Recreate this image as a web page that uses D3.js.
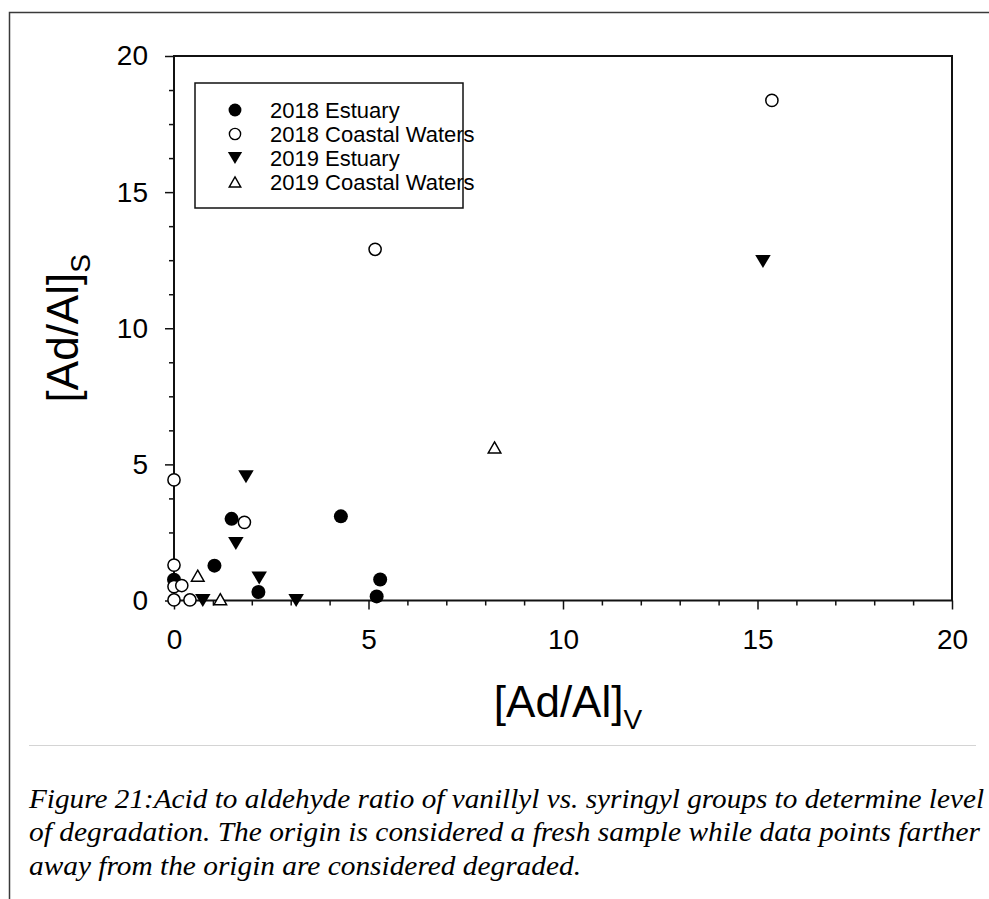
<!DOCTYPE html>
<html>
<head>
<meta charset="utf-8">
<script src="https://cdn.jsdelivr.net/npm/d3@7"></script>
<style>
  body { margin: 0; background: #fff; }
  svg { display: block; }
</style>
</head>
<body>
<svg id="fig" width="989" height="899"></svg>
<script>
// Acid-to-aldehyde ratios: vanillyl [Ad/Al]V (x) against syringyl [Ad/Al]S (y)
const estuary2018 = [[0, 0.76], [1.04, 1.28], [1.48, 3.00], [2.17, 0.31], [4.29, 3.09], [5.30, 0.77], [5.21, 0.15]];
const coastal2018 = [[0, 4.43], [0, 1.30], [0, 0.51], [0.20, 0.55], [0, 0.02], [0.41, 0.02], [1.81, 2.87], [5.17, 12.90], [15.37, 18.37]];
const estuary2019 = [[1.85, 4.55], [1.59, 2.09], [2.19, 0.83], [0.74, 0], [3.14, 0], [15.14, 12.45]];
const coastal2019 = [[0.61, 0.91], [1.19, 0.05], [8.24, 5.62]];

const seriesNames = ["2018 Estuary", "2018 Coastal Waters", "2019 Estuary", "2019 Coastal Waters"];
const majorTicks = [0, 5, 10, 15, 20];
const xMinorStep = 1;
const yMinorStep = 1.25;

const captionLines = [
  "Figure 21:Acid to aldehyde ratio of vanillyl vs. syringyl groups to determine level",
  "of degradation. The origin is considered a fresh sample while data points farther",
  "away from the origin are considered degraded."
];

const svg = d3.select("#fig");
const sans = "'Liberation Sans', Arial, sans-serif";
const serif = "'Liberation Serif', 'Times New Roman', serif";

// page frame (left and top rules) and separator above the caption
svg.append("path")
  .attr("d", "M9.5,899 L9.5,12.5 L989,12.5")
  .attr("fill", "none").attr("stroke", "#3a3a3a").attr("stroke-width", 1.5);
svg.append("line")
  .attr("x1", 29).attr("x2", 976).attr("y1", 745.5).attr("y2", 745.5)
  .attr("stroke", "#d4d4d4").attr("stroke-width", 1);

// plot area
const plot = { left: 174, right: 952, top: 56, bottom: 600.5 };
const x = d3.scaleLinear().domain([0, 20]).range([plot.left, plot.right]);
const y = d3.scaleLinear().domain([0, 20]).range([plot.bottom, plot.top]);

const xMinor = d3.range(0, 20 + 1e-9, xMinorStep).filter(v => !majorTicks.includes(v));
const yMinor = d3.range(0, 20 + 1e-9, yMinorStep).filter(v => !majorTicks.includes(v));

function styleAxis(g) {
  g.select(".domain").remove();
  g.selectAll(".tick line").attr("stroke", "#111").attr("stroke-width", 1.5);
  g.selectAll(".tick text").attr("fill", "#000").attr("font-family", sans).attr("font-size", 28);
}

// minor ticks
svg.append("g").attr("transform", `translate(0,${plot.bottom})`)
  .call(d3.axisBottom(x).tickValues(xMinor).tickSize(5).tickFormat(""))
  .call(styleAxis);
svg.append("g").attr("transform", `translate(${plot.left},0)`)
  .call(d3.axisLeft(y).tickValues(yMinor).tickSize(5).tickFormat(""))
  .call(styleAxis);

// major ticks with labels
svg.append("g").attr("transform", `translate(0,${plot.bottom})`)
  .call(d3.axisBottom(x).tickValues(majorTicks).tickSize(9).tickPadding(19.5).tickFormat(d3.format("d")))
  .call(styleAxis);
svg.append("g").attr("transform", `translate(${plot.left},0)`)
  .call(d3.axisLeft(y).tickValues(majorTicks).tickSize(9).tickPadding(17).tickFormat(d3.format("d")))
  .call(styleAxis);

// closed frame around the plot
svg.append("rect")
  .attr("x", plot.left).attr("y", plot.top)
  .attr("width", plot.right - plot.left).attr("height", plot.bottom - plot.top)
  .attr("fill", "none").attr("stroke", "#111").attr("stroke-width", 2);

// axis titles with subscripts
const xt = svg.append("text")
  .attr("x", (plot.left + plot.right) / 2 + 5).attr("y", 717)
  .attr("text-anchor", "middle").attr("font-family", sans).attr("font-size", 44).attr("fill", "#000");
xt.append("tspan").text("[Ad/Al]");
xt.append("tspan").attr("font-size", 28).attr("dy", 12).text("V");

const yt = svg.append("text")
  .attr("transform", `translate(78,${(plot.top + plot.bottom) / 2}) rotate(-90)`)
  .attr("text-anchor", "middle").attr("font-family", sans).attr("font-size", 44).attr("fill", "#000");
yt.append("tspan").text("[Ad/Al]");
yt.append("tspan").attr("font-size", 28).attr("dy", 12).text("S");

// marker shapes
const shapes = {
  circle: r => d3.symbol(d3.symbolCircle, Math.PI * r * r)(),
  down: (w, h) => `M${-w / 2},${-h / 2}L${w / 2},${-h / 2}L0,${h / 2}Z`,
  up: (w, h) => `M0,${-h / 2}L${w / 2},${h / 2}L${-w / 2},${h / 2}Z`
};
const styles = [
  { d: s => shapes.circle(7 * s), fill: "#000", stroke: "none" },
  { d: s => shapes.circle(6.1 * s), fill: "#fff", stroke: "#000" },
  { d: s => shapes.down(15.5 * s, 13 * s), fill: "#000", stroke: "none" },
  { d: s => shapes.up(12.6 * s, 11 * s), fill: "#fff", stroke: "#000" }
];
const series = [estuary2018, coastal2018, estuary2019, coastal2019];

series.forEach((data, i) => {
  const st = styles[i];
  svg.append("g").selectAll("path").data(data).join("path")
    .attr("transform", d => `translate(${x(d[0])},${y(d[1])})`)
    .attr("d", st.d(1))
    .attr("fill", st.fill).attr("stroke", st.stroke).attr("stroke-width", 1.5);
});

// legend
const legend = svg.append("g");
legend.append("rect")
  .attr("x", 195).attr("y", 83).attr("width", 268).attr("height", 125)
  .attr("fill", "#fff").attr("stroke", "#111").attr("stroke-width", 1.5);
seriesNames.forEach((name, i) => {
  const cy = 110 + i * 24;
  const st = styles[i];
  legend.append("path")
    .attr("transform", `translate(235,${cy})`)
    .attr("d", st.d(0.92))
    .attr("fill", st.fill).attr("stroke", st.stroke).attr("stroke-width", 1.4);
  legend.append("text")
    .attr("x", 270).attr("y", cy + 8)
    .attr("font-family", sans).attr("font-size", 22).attr("fill", "#000")
    .text(name);
});

// caption
const capWidths = [955, 951, 552];
captionLines.forEach((line, i) => {
  svg.append("text")
    .attr("x", 29).attr("y", 808 + i * 33.3)
    .attr("font-family", serif).attr("font-style", "italic").attr("font-size", 28)
    .attr("fill", "#000")
    .attr("textLength", capWidths[i]).attr("lengthAdjust", "spacingAndGlyphs")
    .text(line);
});
</script>
</body>
</html>
